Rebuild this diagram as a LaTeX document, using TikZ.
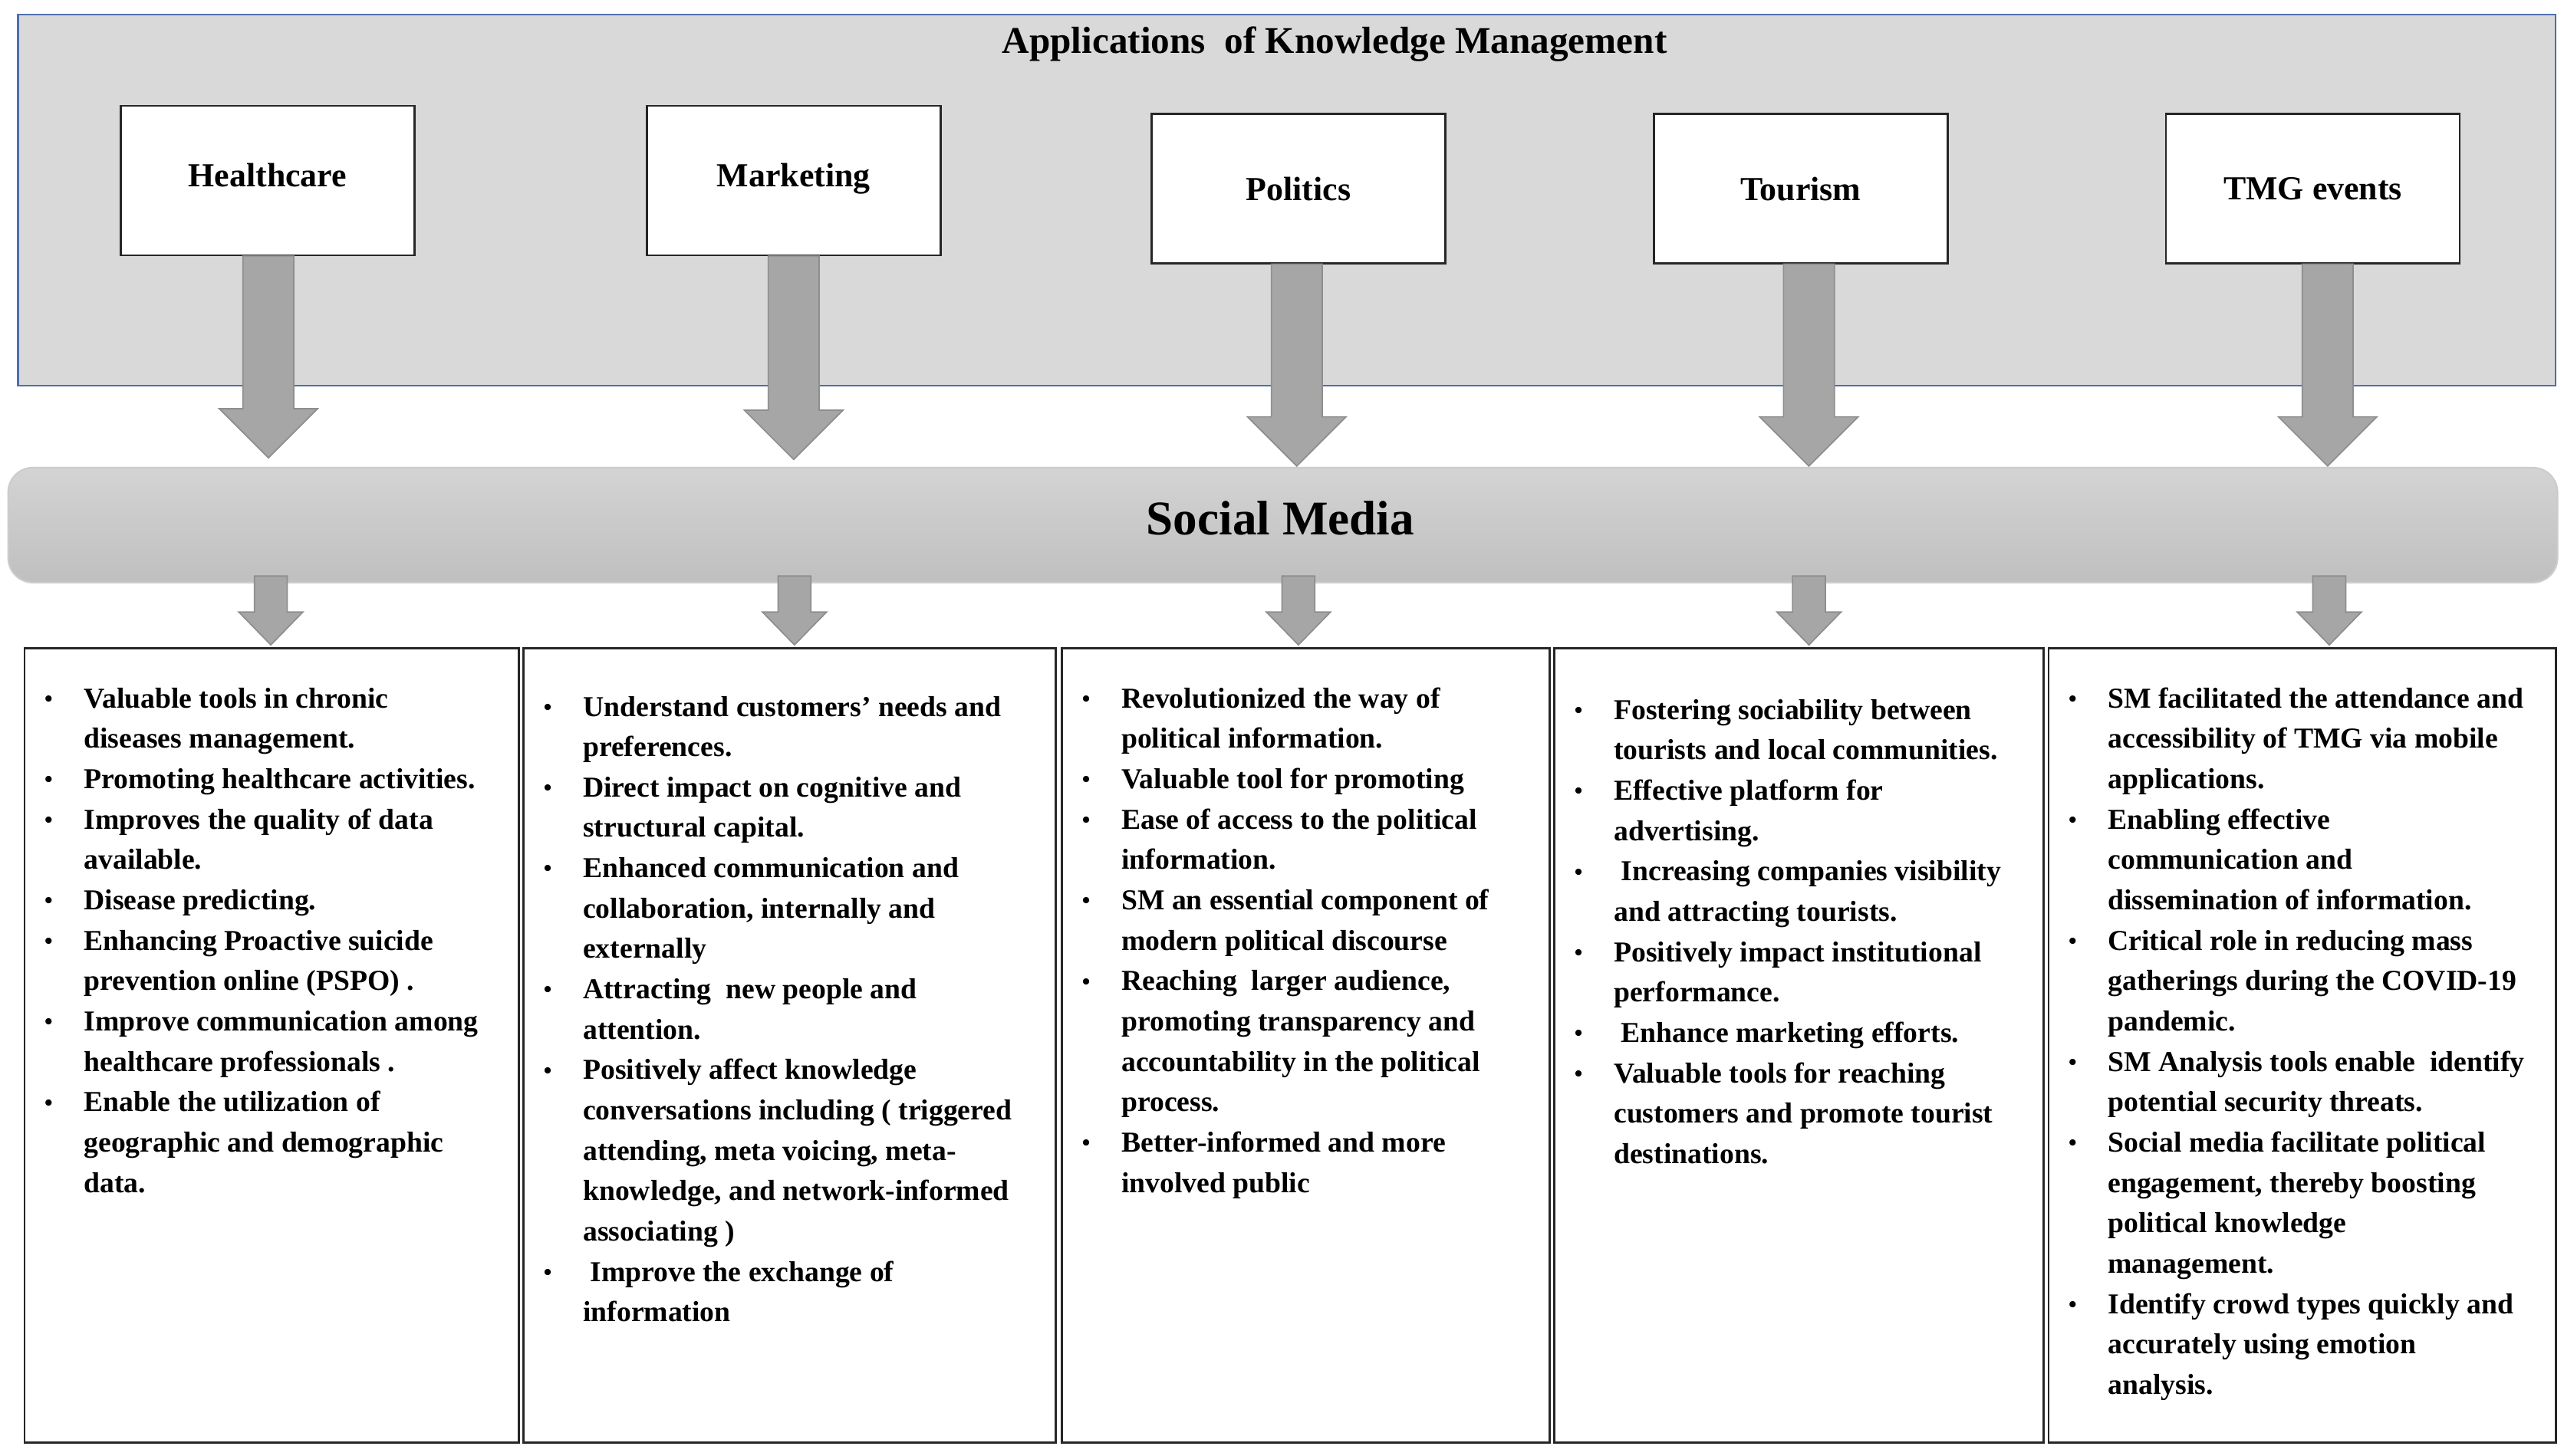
\documentclass[tikz,border=0pt]{standalone}
\usepackage{fontspec}
\setmainfont{Liberation Serif}
\usetikzlibrary{calc}
\definecolor{panel}{HTML}{D9D9D9}
\definecolor{panelborder}{HTML}{4F6FAD}
\definecolor{arrowfill}{HTML}{A6A6A6}
\definecolor{arrowline}{HTML}{8E8E8E}
\newcommand{\bul}{\raisebox{0.1ex}{\scalebox{0.8}{\textbullet}}}
\newcommand{\bigarr}[3]{% x, ytop, ytip
  \fill[arrowfill,draw=arrowline,line width=0.8pt]
   (#1-15.5,#2) -- (#1+15.5,#2) -- (#1+15.5,#3-30) -- (#1+30,#3-30) -- (#1,#3) -- (#1-30,#3-30) -- (#1-15.5,#3-30) -- cycle;}
\newcommand{\smallarr}[1]{%
  \fill[arrowfill,draw=arrowline,line width=0.8pt]
   (#1-10,351) -- (#1+10,351) -- (#1+10,373) -- (#1+19.5,373) -- (#1,393) -- (#1-19.5,373) -- (#1-10,373) -- cycle;}
\begin{document}
\begin{tikzpicture}[x=1pt,y=-1pt,
  app/.style={draw=black!85,line width=1.2pt,fill=white,minimum width=179pt,minimum height=91pt,font=\bfseries\fontsize{20.5}{22}\selectfont},
  col/.style={draw=black!85,line width=1.3pt},
  list/.style={anchor=north west,inner sep=0pt,font=\bfseries\fontsize{17.6}{24.6}\selectfont}]
\useasboundingbox (0,0) rectangle (1562,887);
\fill[white] (0,0) rectangle (1562,887);
% top panel
\draw[panelborder,fill=panel,line width=1pt] (11,9) rectangle (1557,235);
\node[font=\bfseries\fontsize{23}{26}\selectfont] (title) at (813,27) {Applications\ \ of Knowledge Management};
\node[app] (hc) at (163,110) {\raisebox{7pt}{Healthcare}};
\node[app] (mk) at (483.5,110) {\raisebox{7pt}{Marketing}};
\node[app] (po) at (791,115) {Politics};
\node[app] (to) at (1097,115) {Tourism};
\node[app] (tm) at (1409,115) {TMG events};
% social media band
\shade[top color=black!17,bottom color=black!25,draw=black!20,line width=1pt,rounded corners=15pt] (5,285) rectangle (1558,355);
\node[font=\bfseries\fontsize{29.5}{32}\selectfont] (sm) at (780,316) {Social Media};
% big arrows
\bigarr{163.5}{156}{279}
\bigarr{483.5}{156}{280}
\bigarr{790}{161}{284}
\bigarr{1102}{161}{284}
\bigarr{1418}{161}{284}
% small arrows
\smallarr{165}\smallarr{484}\smallarr{791}\smallarr{1102}\smallarr{1419}
% columns
\draw[col] (15,395) rectangle (316,879);
\draw[col] (319,395) rectangle (643,879);
\draw[col] (647,395) rectangle (944,879);
\draw[col] (947,395) rectangle (1245,879);
\draw[col] (1248,395) rectangle (1557,879);
\node[list] (l1) at (27,414) {\begin{tabular}[t]{@{}p{24pt}@{}l@{}}
\bul & Valuable tools in chronic\\ & diseases management.\\
\bul & Promoting healthcare activities.\\
\bul & Improves the quality of data\\ & available.\\
\bul & Disease predicting.\\
\bul & Enhancing Proactive suicide\\ & prevention online (PSPO) .\\
\bul & Improve communication among\\ & healthcare professionals .\\
\bul & Enable the utilization of\\ & geographic and demographic\\ & data.
\end{tabular}};
\node[list] (l2) at (331,419) {\begin{tabular}[t]{@{}p{24pt}@{}l@{}}
\bul & Understand customers' needs and\\ & preferences.\\
\bul & Direct impact on cognitive and\\ & structural capital.\\
\bul & Enhanced communication and\\ & collaboration, internally and\\ & externally\\
\bul & Attracting\ \ new people and\\ & attention.\\
\bul & Positively affect knowledge\\ & conversations including ( triggered\\ & attending, meta voicing, meta-\\ & knowledge, and network-informed\\ & associating )\\
\bul & \ Improve the exchange of\\ & information
\end{tabular}};
\node[list] (l3) at (659,414) {\begin{tabular}[t]{@{}p{24pt}@{}l@{}}
\bul & Revolutionized the way of\\ & political information.\\
\bul & Valuable tool for promoting\\
\bul & Ease of access to the political\\ & information.\\
\bul & SM an essential component of\\ & modern political discourse\\
\bul & Reaching\ \ larger audience,\\ & promoting transparency and\\ & accountability in the political\\ & process.\\
\bul & Better-informed and more\\ & involved public
\end{tabular}};
\node[list] (l4) at (959,421) {\begin{tabular}[t]{@{}p{24pt}@{}l@{}}
\bul & Fostering sociability between\\ & tourists and local communities.\\
\bul & Effective platform for\\ & advertising.\\
\bul & \ Increasing companies visibility\\ & and attracting tourists.\\
\bul & Positively impact institutional\\ & performance.\\
\bul & \ Enhance marketing efforts.\\
\bul & Valuable tools for reaching\\ & customers and promote tourist\\ & destinations.
\end{tabular}};
\node[list] (l5) at (1260,414) {\begin{tabular}[t]{@{}p{24pt}@{}l@{}}
\bul & SM facilitated the attendance and\\ & accessibility of TMG via mobile\\ & applications.\\
\bul & Enabling effective\\ & communication and\\ & dissemination of information.\\
\bul & Critical role in reducing mass\\ & gatherings during the COVID-19\\ & pandemic.\\
\bul & SM Analysis tools enable\ \ identify\\ & potential security threats.\\
\bul & Social media facilitate political\\ & engagement, thereby boosting\\ & political knowledge\\ & management.\\
\bul & Identify crowd types quickly and\\ & accurately using emotion\\ & analysis.
\end{tabular}};
\end{tikzpicture}
\end{document}
